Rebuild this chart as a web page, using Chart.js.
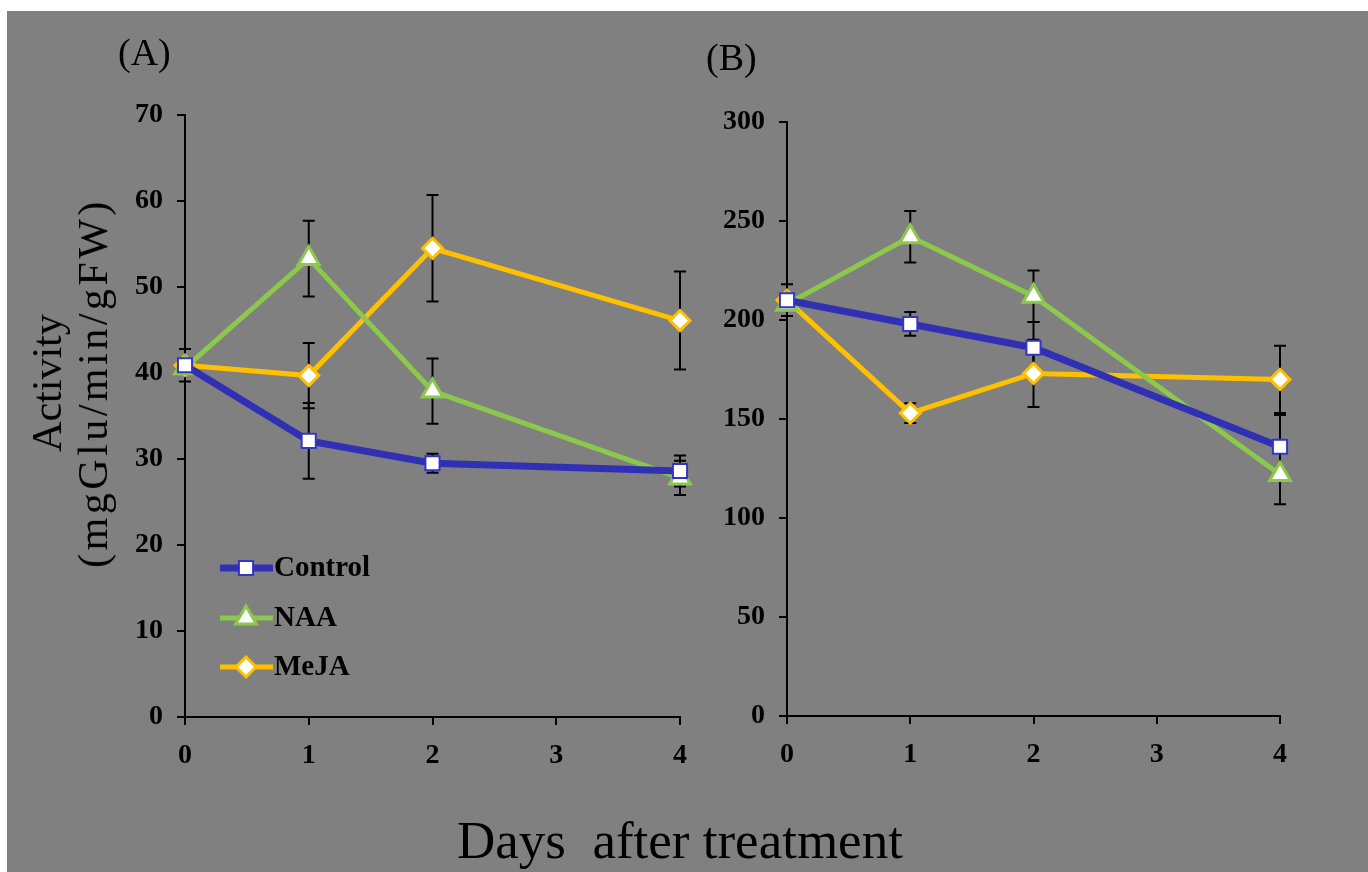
<!DOCTYPE html>
<html>
<head>
<meta charset="utf-8">
<script src="https://cdn.jsdelivr.net/npm/chart.js@4.4.1/dist/chart.umd.min.js"></script>
<style>
  html, body { margin: 0; padding: 0; background: #fff; }
  #page { position: relative; width: 1368px; height: 872px; overflow: hidden; }
  #bg { position: absolute; left: 7px; top: 11px; width: 1361px; height: 861px; background: #808080; }
  canvas { position: absolute; top: 0; }
  #chartA { left: 0; }
  #chartB { left: 600px; }
  .lbl { position: absolute; font-family: "Liberation Serif", "Times New Roman", serif; color: #000; white-space: pre; line-height: 1; }
  #ytitle { left: 70px; top: 383px; transform: translate(-50%, -50%) rotate(-90deg); text-align: center; font-size: 42px; line-height: 46px; }
  #ytitle span { letter-spacing: 3.5px; }
</style>
</head>
<body>
<div id="page">
  <div id="bg"></div>
  <canvas id="chartA" width="720" height="800"></canvas>
  <canvas id="chartB" width="720" height="800"></canvas>
  <div class="lbl" style="left:118px; top:33px; font-size:38px;">(A)</div>
  <div class="lbl" style="left:706px; top:38px; font-size:38px;">(B)</div>
  <div class="lbl" id="ytitle">Activity<br><span>(mgGlu/min/gFW)</span></div>
  <div class="lbl" style="left:457px; top:814px; font-size:53px;">Days  after treatment</div>
</div>
<script>
// days after treatment
const days = [0, 1, 2, 4];
const seriesNames = ["Control", "NAA", "MeJA"];

// panel A
const controlA = [40.9, 32.1, 29.5, 28.6];
const naaA = [40.6, 53.3, 37.9, 27.8];
const mejaA = [40.9, 39.7, 54.5, 46.1];
const controlErrA = [1.9, 4.4, 1.1, 1.8];
const naaErrA = [0.5, 4.4, 3.8, 2.0];
const mejaErrA = [0.5, 3.8, 6.2, 5.7];

// panel B
const controlB = [210, 198, 186, 136];
const naaB = [208, 242, 212, 122];
const mejaB = [210, 153, 173, 170];
const controlErrB = [8, 6, 13, 16];
const naaErrB = [3, 13, 13, 15];
const mejaErrB = [3, 5, 17, 17];

const colors = ["#3030B4", "#8CC84B", "#FFC000"];
const markerBorder = ["#3535C8", "#8CC84B", "#FFC000"];
const pointStyles = ["rect", "triangle", "rectRot"];
const pointRadius = [10, 12, 10];
const lineWidths = [7, 5, 5];

const fontFamily = '"Liberation Serif", "Times New Roman", serif';

function makeDatasets(values, errors) {
  return values.map((vals, i) => ({
    label: seriesNames[i],
    data: days.map((d, j) => ({ x: d, y: vals[j] })),
    errors: errors[i],
    borderColor: colors[i],
    borderWidth: lineWidths[i],
    backgroundColor: "#fff",
    pointStyle: pointStyles[i],
    pointRadius: pointRadius[i],
    pointBorderColor: markerBorder[i],
    pointBackgroundColor: "#fff",
    pointBorderWidth: i == 0 ? 2 : 3,
    tension: 0,
    clip: false
  }));
}

/* error bars, drawn under the lines */
const errorBars = {
  id: "errorBars",
  beforeDatasetsDraw(chart) {
    const ctx = chart.ctx;
    const xs = chart.scales.x, ys = chart.scales.y;
    ctx.save();
    ctx.strokeStyle = "#000";
    ctx.lineWidth = 2;
    chart.data.datasets.forEach(ds => {
      ds.data.forEach((p, j) => {
        const e = ds.errors[j];
        const px = xs.getPixelForValue(p.x);
        const top = ys.getPixelForValue(p.y + e);
        const bot = ys.getPixelForValue(p.y - e);
        ctx.beginPath();
        ctx.moveTo(px, top); ctx.lineTo(px, bot);
        ctx.moveTo(px - 6, top); ctx.lineTo(px + 6, top);
        ctx.moveTo(px - 6, bot); ctx.lineTo(px + 6, bot);
        ctx.stroke();
      });
    });
    ctx.restore();
  }
};

/* legend inside panel A */
function drawMarker(ctx, style, x, y, r) {
  ctx.beginPath();
  if (style === "rect") {
    const s = Math.SQRT1_2 * r;
    ctx.rect(x - s, y - s, 2 * s, 2 * s);
  } else if (style === "triangle") {
    ctx.moveTo(x, y - r);
    ctx.lineTo(x + r * Math.sin(Math.PI * 2 / 3), y - r * Math.cos(Math.PI * 2 / 3));
    ctx.lineTo(x + r * Math.sin(Math.PI * 4 / 3), y - r * Math.cos(Math.PI * 4 / 3));
    ctx.closePath();
  } else {
    ctx.moveTo(x, y - r); ctx.lineTo(x + r, y); ctx.lineTo(x, y + r); ctx.lineTo(x - r, y);
    ctx.closePath();
  }
  ctx.fill();
  ctx.stroke();
}

const insideLegend = {
  id: "insideLegend",
  afterDraw(chart) {
    const ctx = chart.ctx;
    const rows = [568, 618, 667];
    ctx.save();
    chart.data.datasets.forEach((ds, i) => {
      const y = rows[i];
      ctx.strokeStyle = ds.borderColor;
      ctx.lineWidth = ds.borderWidth;
      ctx.beginPath();
      ctx.moveTo(220, y); ctx.lineTo(273, y);
      ctx.stroke();
      ctx.fillStyle = "#fff";
      ctx.strokeStyle = ds.pointBorderColor;
      ctx.lineWidth = ds.pointBorderWidth;
      drawMarker(ctx, ds.pointStyle, 246, y, ds.pointRadius);
      ctx.fillStyle = "#000";
      ctx.font = "bold 29px " + fontFamily;
      ctx.textBaseline = "middle";
      ctx.fillText(ds.label, 274, y + 1);
    });
    ctx.restore();
  }
};

function axisOpts(min, max, step, size, isY, pad) {
  return {
    type: "linear",
    min: min, max: max,
    afterFit(scale) { if (isY) scale.width = size; else scale.height = size; },
    ticks: {
      stepSize: step,
      color: "#000",
      padding: pad,
      font: { family: fontFamily, size: 28, weight: "bold" }
    },
    grid: { display: true, drawOnChartArea: false, drawTicks: true, tickLength: 8, color: "#000", lineWidth: 2 },
    border: { display: true, color: "#000", width: 2 }
  };
}

function makeChart(id, datasets, yMax, yStep, yWidth, xHeight, padTop, plugins) {
  return new Chart(document.getElementById(id), {
    type: "line",
    data: { datasets: datasets },
    options: {
      responsive: false,
      animation: false,
      devicePixelRatio: 1,
      layout: { padding: { left: 0, right: 40, top: padTop, bottom: 0 } },
      plugins: { legend: { display: false }, tooltip: { enabled: false } },
      scales: {
        x: axisOpts(0, 4, 1, xHeight, false, 14),
        y: axisOpts(0, yMax, yStep, yWidth, true, 14)
      }
    },
    plugins: plugins
  });
}

makeChart("chartA",
  makeDatasets([controlA, naaA, mejaA], [controlErrA, naaErrA, mejaErrA]),
  70, 10, 185, 83, 115, [errorBars, insideLegend]);

makeChart("chartB",
  makeDatasets([controlB, naaB, mejaB], [controlErrB, naaErrB, mejaErrB]),
  300, 50, 187, 84, 122, [errorBars]);
</script>
</body>
</html>
